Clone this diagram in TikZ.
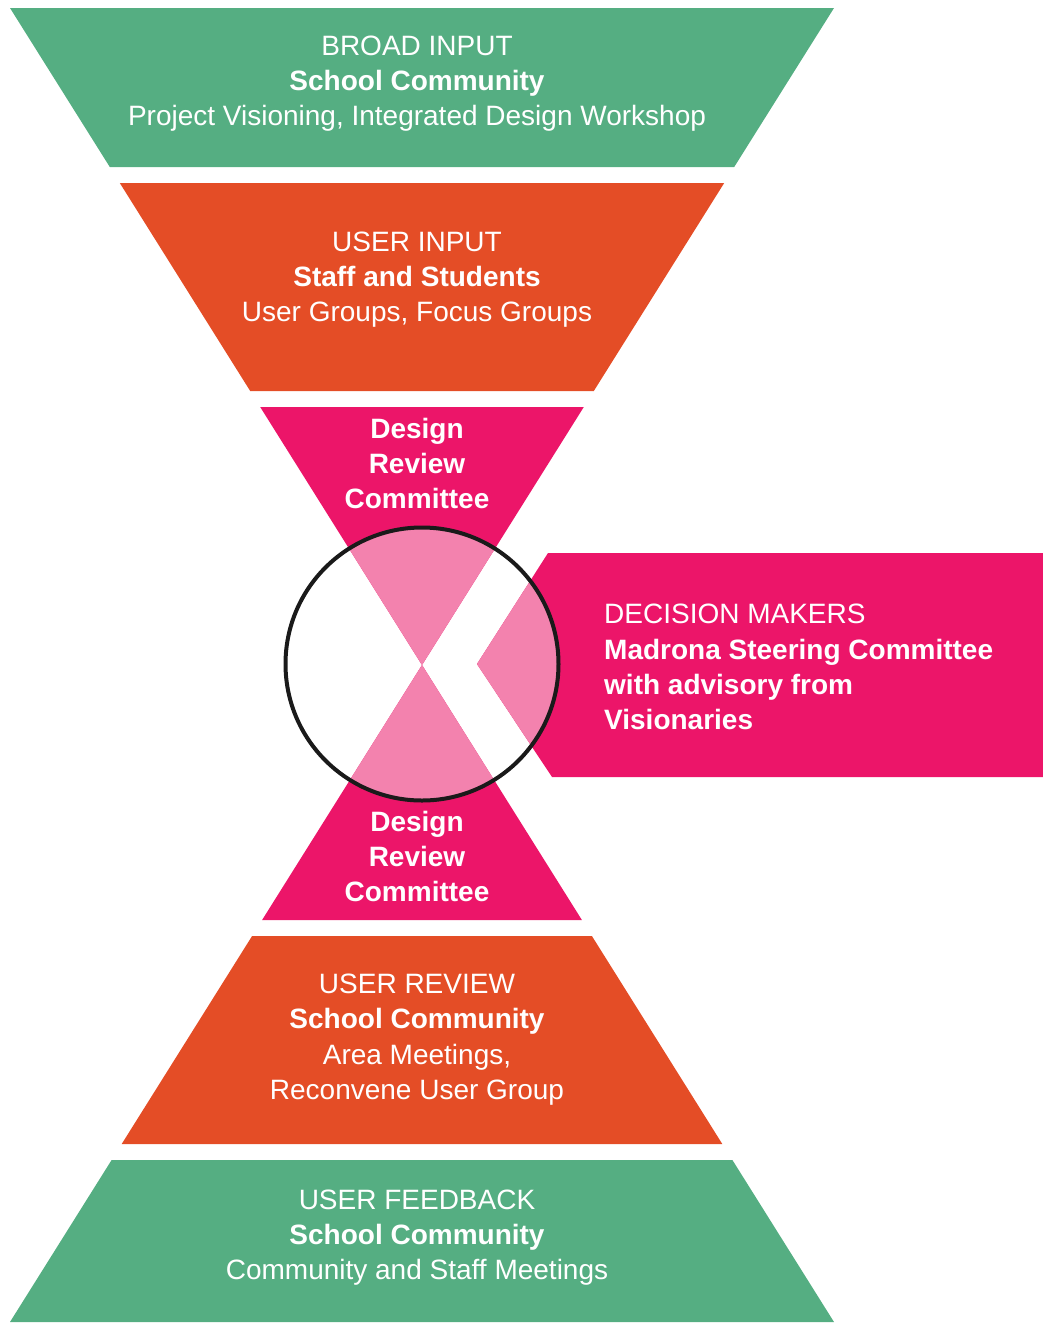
\documentclass[tikz,border=0pt]{standalone}
\usepackage{fontspec}
\setmainfont{Liberation Sans}
\definecolor{hgreen}{HTML}{55AE82}
\definecolor{horange}{HTML}{E44D26}
\definecolor{hpink}{HTML}{EC1569}
\definecolor{hlight}{HTML}{F382AE}
\definecolor{hring}{HTML}{1A1A1A}
\tikzset{
  txt/.style={text=white, inner sep=0pt, anchor=base, font=\fontsize{28}{34}\selectfont},
  txtb/.style={txt, font=\fontsize{28}{34}\selectfont\bfseries},
  txtl/.style={txt, anchor=base west},
  txtlb/.style={txtb, anchor=base west},
}
\begin{document}
\begin{tikzpicture}[x=1pt,y=-1pt]
\useasboundingbox (0,0) rectangle (1043,1323);
% shapes
\fill[hgreen] (10,8) -- (834,8) -- (734.2,167) -- (109.8,167) -- cycle;
\fill[horange] (119.8,183) -- (724.2,183) -- (593.8,391) -- (250.2,391) -- cycle;
\fill[hpink] (260.2,407) -- (583.8,407) -- (422,665) -- cycle;
\fill[hpink] (422,665) -- (581.9,920) -- (262.1,920) -- cycle;
\fill[horange] (252.1,936) -- (591.9,936) -- (722.3,1144) -- (121.7,1144) -- cycle;
\fill[hgreen] (111.6,1160) -- (732.4,1160) -- (834,1322) -- (10,1322) -- cycle;
\fill[hpink] (548,553) -- (1043,553) -- (1043,777) -- (552,777) -- (477,664) -- cycle;
\begin{scope}
  \clip (422,664) circle[radius=136.5];
  \fill[hlight] (260.2,407) -- (583.8,407) -- (422,665) -- cycle;
  \fill[hlight] (422,665) -- (581.9,920) -- (262.1,920) -- cycle;
  \fill[hlight] (548,553) -- (1043,553) -- (1043,777) -- (552,777) -- (477,664) -- cycle;
\end{scope}
\draw[hring, line width=4pt] (422,664) circle[radius=136.5];
% texts
\node[txt]  (b1) at (417,55) {BROAD INPUT};
\node[txtb] (b2) at (417,90) {School Community};
\node[txt]  (b3) at (417,125) {Project Visioning, Integrated Design Workshop};
\node[txt]  (u1) at (417,251) {USER INPUT};
\node[txtb] (u2) at (417,286) {Staff and Students};
\node[txt]  (u3) at (417,321) {User Groups, Focus Groups};
\node[txtb] (d1) at (417,438) {Design};
\node[txtb] (d2) at (417,473) {Review};
\node[txtb] (d3) at (417,508) {Committee};
\node[txtl]  (m1) at (604,623) {DECISION MAKERS};
\node[txtlb] (m2) at (604,659) {Madrona Steering Committee};
\node[txtlb] (m3) at (604,694) {with advisory from};
\node[txtlb] (m4) at (604,729) {Visionaries};
\node[txtb] (e1) at (417,831) {Design};
\node[txtb] (e2) at (417,866) {Review};
\node[txtb] (e3) at (417,901) {Committee};
\node[txt]  (r1) at (417,993) {USER REVIEW};
\node[txtb] (r2) at (417,1028) {School Community};
\node[txt]  (r3) at (417,1064) {Area Meetings,};
\node[txt]  (r4) at (417,1099) {Reconvene User Group};
\node[txt]  (f1) at (417,1209) {USER FEEDBACK};
\node[txtb] (f2) at (417,1244) {School Community};
\node[txt]  (f3) at (417,1279) {Community and Staff Meetings};
\end{tikzpicture}
\end{document}
